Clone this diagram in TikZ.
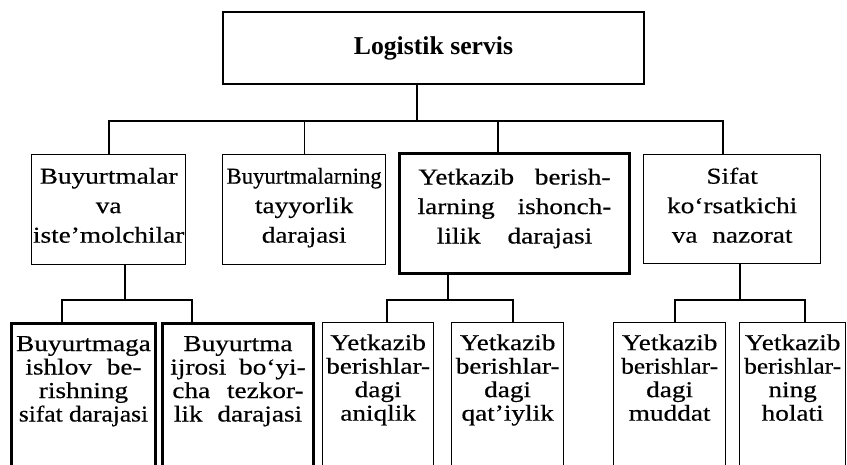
\documentclass[tikz,border=0pt]{standalone}
\usepackage{fontspec}
\setmainfont{Liberation Serif}[FakeStretch=1.2, FakeBold=0.5]
\newfontfamily\plainserif{Liberation Serif}
\newfontfamily\narrowserif{Liberation Serif}[FakeBold=0.5]
\newfontfamily\semiwide{Liberation Serif}[FakeStretch=1.12, FakeBold=0.5]
\tikzset{
  box/.style={draw, line width=1.3pt, inner sep=0pt, align=center},
  mid/.style={box, anchor=north west, font=\fontsize{22.7}{29.5}\selectfont,
    text height=88pt, text depth=22pt},
  leaf/.style={box, anchor=north west, font=\fontsize{22.7}{23.5}\selectfont,
    text height=98pt, text depth=60pt},
  heavy/.style={line width=3pt},
  link/.style={line width=1.3pt}
}
\begin{document}
\begin{tikzpicture}[x=1pt,y=-1pt]
\useasboundingbox (0,0) rectangle (847,464);
\clip (0,0) rectangle (847,464);
\node[box, minimum width=421pt, minimum height=72pt,
  font=\plainserif\bfseries\fontsize{25.7}{30}\selectfont] (top) at (433.5,48) {Logistik servis};

\node[mid, minimum width=154pt] (buyurtma) at (31,154) {Buyurtmalar\\va\\iste’molchilar};
\node[mid, minimum width=163pt] (tayyor) at (222,154) {{\narrowserif Buyurtmalarning}\\tayyorlik\\darajasi};
\node[mid, heavy, minimum width=230pt, text height=90pt, text depth=30pt] (ishonch) at (398,152)
  {Yetkazib\hspace{14pt} berish-\\larning\hspace{16pt} ishonch-\\lilik\hspace{20pt} darajasi};
\node[mid, minimum width=177pt, text depth=21pt] (sifat) at (643,154) {Sifat\\ko‘rsatkichi\\va\hspace{8pt} nazorat};

\node[leaf, heavy, minimum width=144pt] (ishlov) at (10,322) {Buyurtmaga\\ishlov\hspace{8pt} be-\\rishning\\{\semiwide sifat darajasi}};
\node[leaf, heavy, minimum width=151pt] (tezkor) at (161,322) {Buyurtma\\ijrosi\hspace{6pt} bo‘yi-\\cha\hspace{10pt} tezkor-\\lik\hspace{8pt} darajasi};
\node[leaf, minimum width=111pt] (aniq) at (322,322) {Yetkazib\\berishlar-\\dagi\\aniqlik};
\node[leaf, minimum width=112pt] (qat) at (451,322) {Yetkazib\\berishlar-\\dagi\\qat’iylik};
\node[leaf, minimum width=112pt] (muddat) at (613,322) {Yetkazib\\{\semiwide berishlar-}\\dagi\\muddat};
\node[leaf, minimum width=106pt] (holat) at (739,322) {Yetkazib\\{\semiwide berishlar-}\\ning\\holati};

\coordinate (t0) at (417,121);
\coordinate (t1) at (109,121);
\coordinate (t3) at (498,121);
\coordinate (t4) at (723,121);
\draw[link] (top.south -| t0) -- (t0);
\draw[link] (buyurtma.north -| t1) -- (t1) -- (t4) -- (sifat.north -| t4);
\draw[link] (tayyor.north) -- (tayyor.north |- t0);
\draw[link] (ishonch.north -| t3) -- (t3);

\coordinate (a0) at (125,300);
\coordinate (a1) at (62,300);
\coordinate (a2) at (192,300);
\draw[link] (buyurtma.south -| a0) -- (a0);
\draw[link] (ishlov.north -| a1) -- (a1) -- (a2) -- (tezkor.north -| a2);

\coordinate (b0) at (448,300);
\coordinate (b1) at (387,300);
\coordinate (b2) at (513,300);
\draw[link, line width=2.2pt] (ishonch.south -| b0) -- (b0);
\draw[link, line width=2.2pt] (aniq.north -| b1) -- (b1) -- (b2) -- (qat.north -| b2);

\coordinate (c0) at (740,300);
\coordinate (c1) at (675,300);
\coordinate (c2) at (805,300);
\draw[link] (sifat.south -| c0) -- (c0);
\draw[link] (muddat.north -| c1) -- (c1) -- (c2) -- (holat.north -| c2);
\end{tikzpicture}
\end{document}
